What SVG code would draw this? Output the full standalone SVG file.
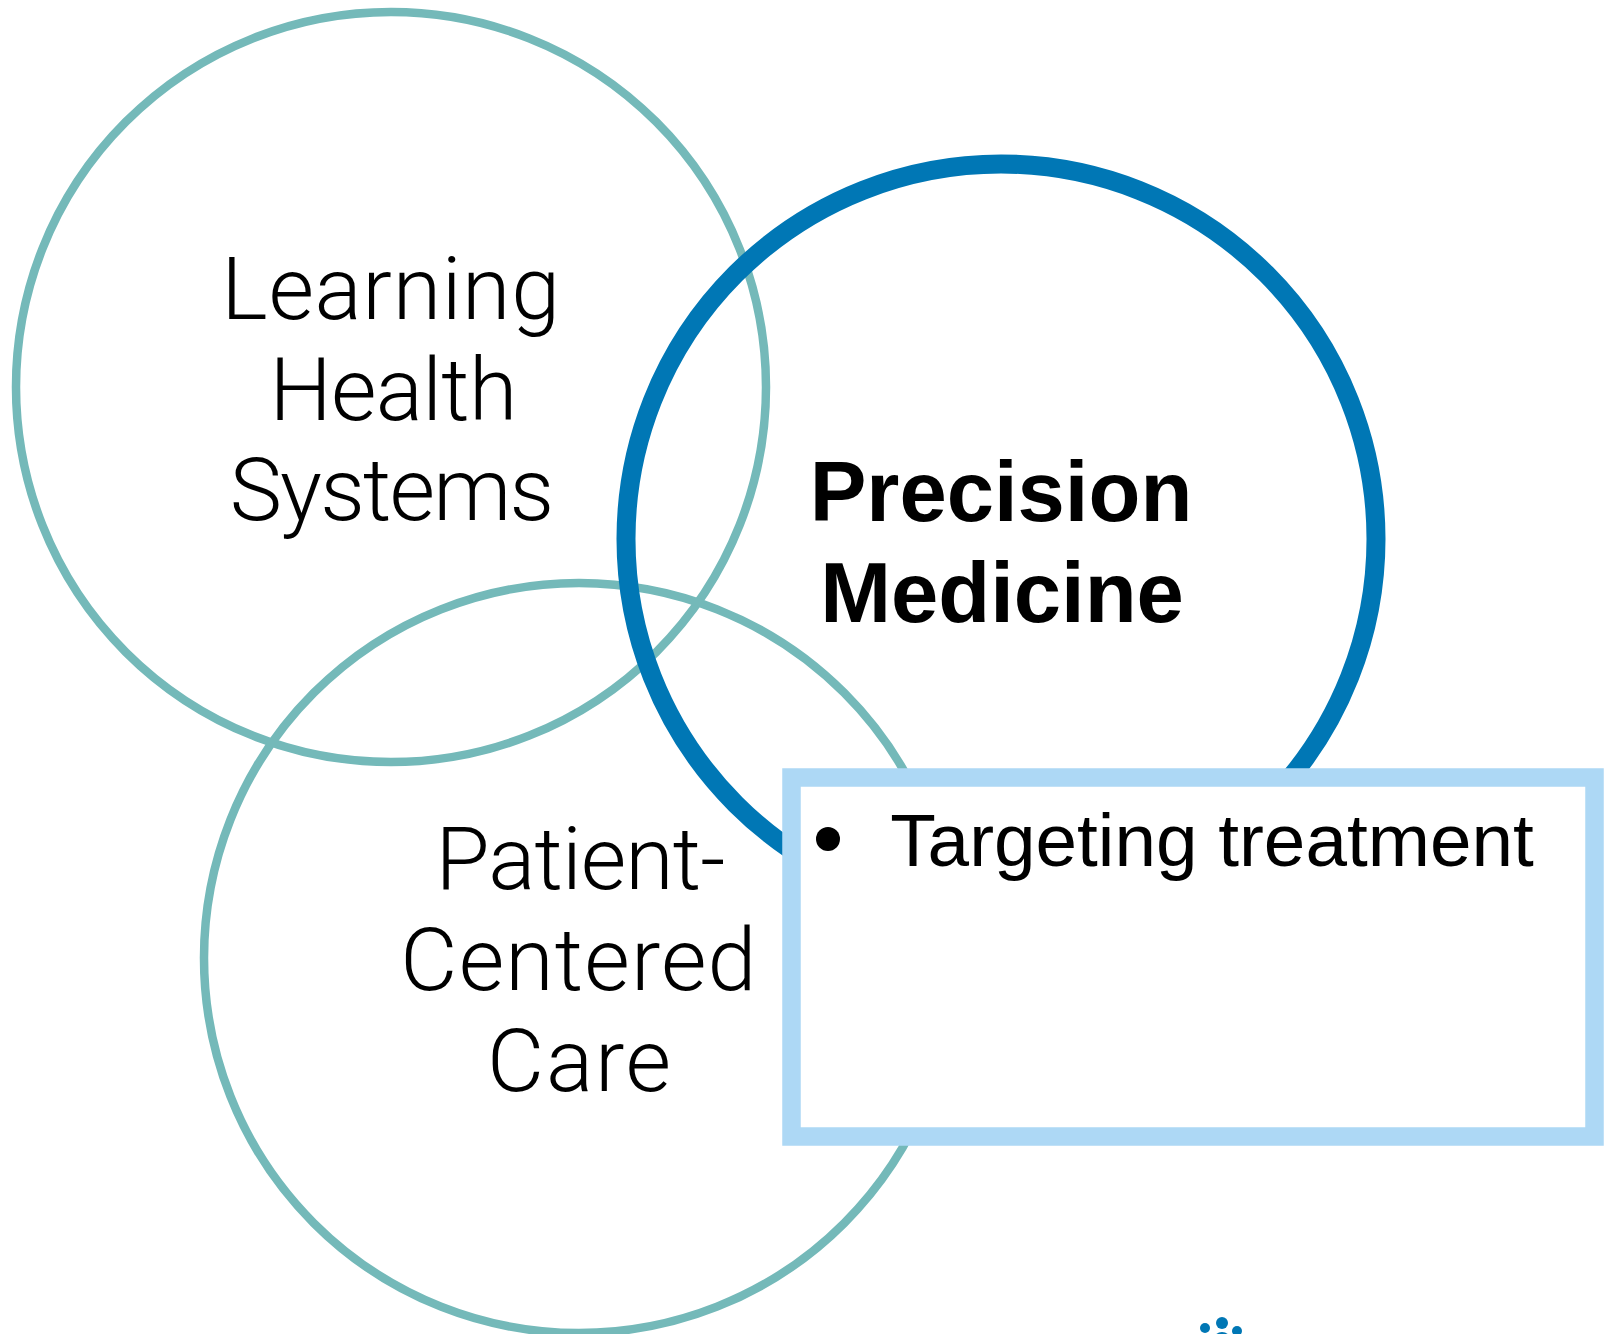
<svg xmlns="http://www.w3.org/2000/svg" width="1614" height="1334" viewBox="0 0 1614 1334">
<style>
.c{fill:none;stroke:#74b9b9;stroke-width:8.500}
text{font-family:"Roboto","Liberation Sans",Arial,sans-serif;fill:#000;text-anchor:middle}
.l{font-size:88px;font-weight:300}
.b{font-family:"Liberation Sans",Arial,sans-serif;font-size:85px;font-weight:700}
.t{font-size:74.700px;font-weight:400;font-family:"Liberation Sans",Arial,sans-serif}
</style>
<rect width="1614" height="1334" fill="#fff"/>
<g id="learning"><circle class="c" cx="391" cy="387" r="375"/>
<text class="l" x="391" y="319" letter-spacing="0.650">Learning</text><text class="l" x="393" y="420" letter-spacing="-0.700">Health</text><text class="l" x="391" y="520" letter-spacing="-1.800">Systems</text></g>
<g id="patient"><circle class="c" cx="579" cy="958" r="375"/>
<text class="l" x="580" y="889" letter-spacing="-0.900">Patient-</text><text class="l" x="579" y="990" letter-spacing="1.150">Centered</text><text class="l" x="580" y="1091" letter-spacing="1.800">Care</text></g>
<g id="precision"><circle cx="1001" cy="539" r="375" fill="none" stroke="#0077b5" stroke-width="19"/>
<text class="b" x="1001" y="521">Precision</text><text class="b" x="1002" y="622">Medicine</text></g>
<g id="box"><rect x="791.500" y="777.500" width="803" height="359" fill="#fff" stroke="#add8f5" stroke-width="18.500"/>
<circle cx="828" cy="839" r="12" fill="#000"/>
<text class="t" x="1212" y="866">Targeting treatment</text></g>
<g id="logo" fill="#0077b5"><circle cx="1222" cy="1323" r="6"/><circle cx="1205" cy="1328" r="5"/><circle cx="1237" cy="1331" r="5"/><circle cx="1222" cy="1341" r="9"/></g>
</svg>
